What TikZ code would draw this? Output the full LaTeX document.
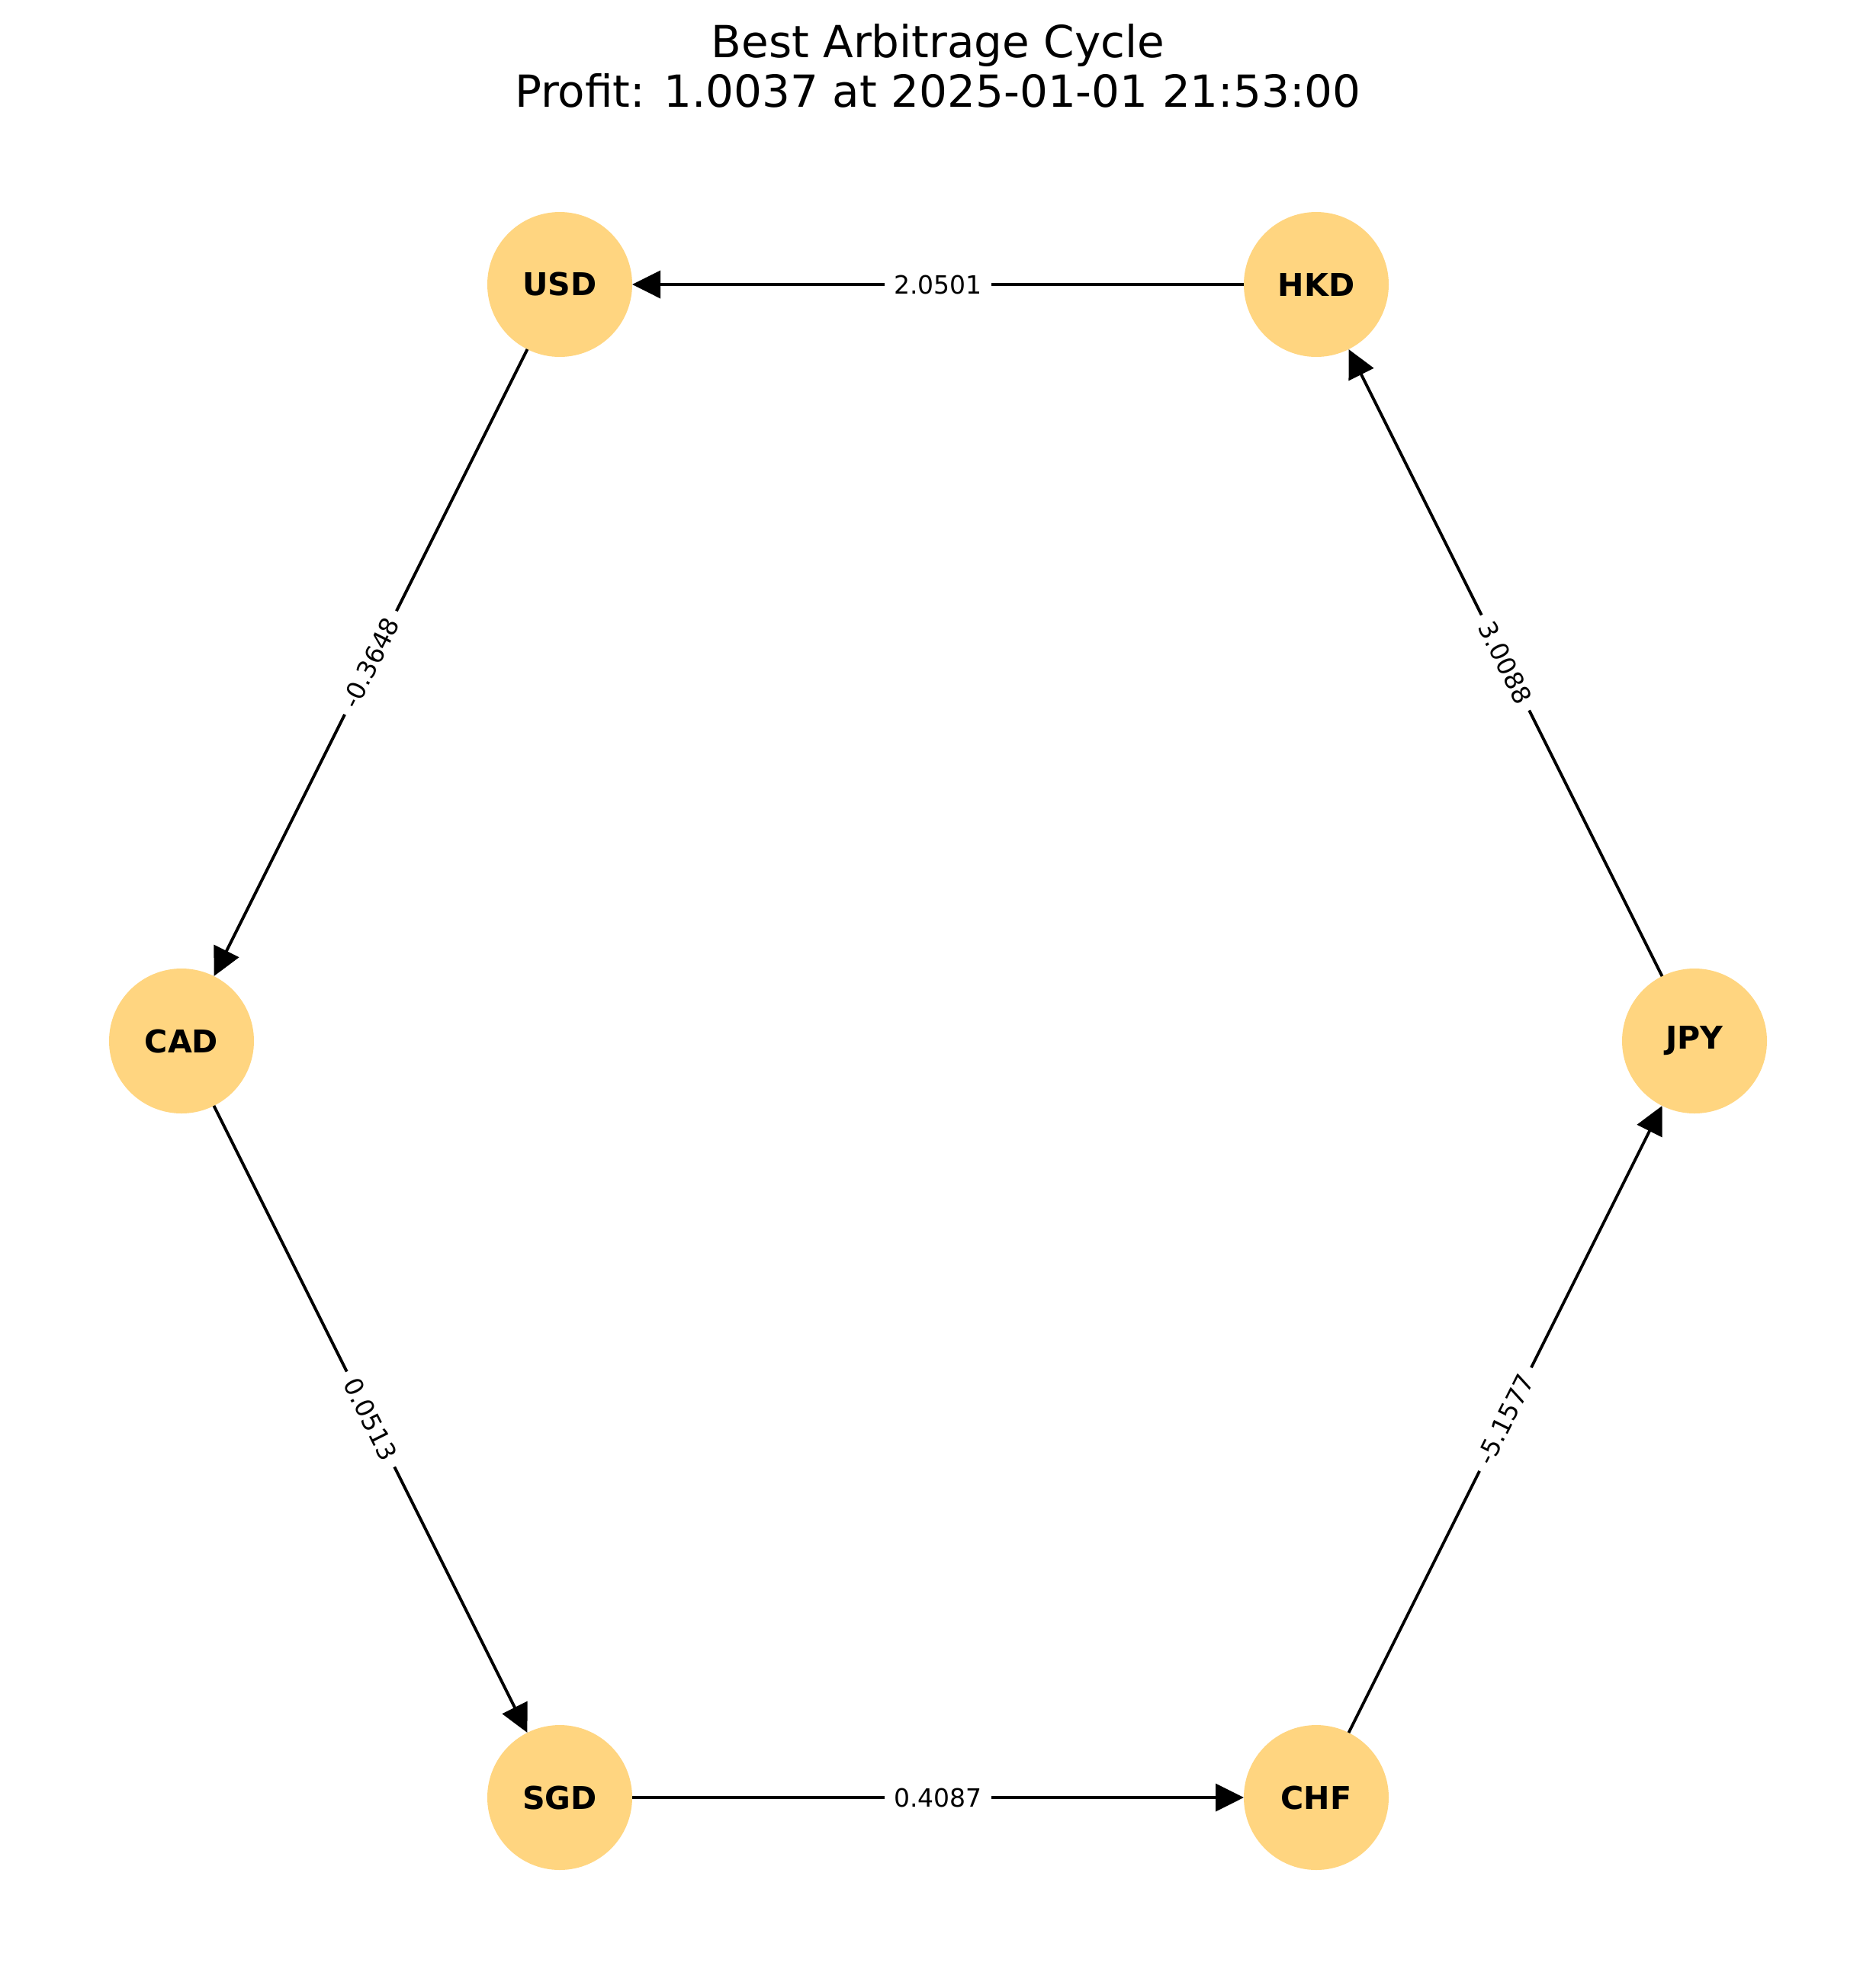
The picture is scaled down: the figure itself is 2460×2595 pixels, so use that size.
\documentclass[tikz,border=0pt]{standalone}
\usepackage{fontspec}
\setmainfont{DejaVu Sans}
\usetikzlibrary{arrows.meta}
\definecolor{nodefill}{RGB}{255,213,128}
\begin{document}
\begin{tikzpicture}[x=0.3pt,y=-0.3pt,
  cur/.style={circle,fill=nodefill,draw=none,inner sep=0pt,outer sep=0pt,minimum size=57pt,
    font=\fontsize{12.35}{14}\selectfont\bfseries},
  edge/.style={line width=1.15pt,draw=black,-{Triangle[length=11.1pt,width=10.8pt]}},
  elabel/.style={fill=white,inner xsep=3.6pt,inner ysep=2pt,sloped,midway,
    font=\fontsize{9.9}{11}\selectfont},
  ttl/.style={anchor=base,inner sep=0pt,font=\fontsize{17.4}{19.5}\selectfont}]
\useasboundingbox (0,0) rectangle (2460,2595);
\node[ttl] (title1) at (1230,75) {Best Arbitrage Cycle};
\node[ttl] (title2) at (1230,140) {Profit: 1.0037 at 2025-01-01 21:53:00};
\node[cur] (usd) at (734,373) {USD};
\node[cur] (hkd) at (1726,373) {HKD};
\node[cur] (cad) at (238,1365) {CAD};
\node[cur] (jpy) at (2222,1365) {JPY};
\node[cur] (sgd) at (734,2357) {SGD};
\node[cur] (chf) at (1726,2357) {CHF};
\draw[edge] (hkd) -- node[elabel] {2.0501} (usd);
\draw[edge] (usd) -- node[elabel] {-0.3648} (cad);
\draw[edge] (cad) -- node[elabel] {0.0513} (sgd);
\draw[edge] (sgd) -- node[elabel] {0.4087} (chf);
\draw[edge] (chf) -- node[elabel] {-5.1577} (jpy);
\draw[edge] (jpy) -- node[elabel] {3.0088} (hkd);
\end{tikzpicture}
\end{document}
